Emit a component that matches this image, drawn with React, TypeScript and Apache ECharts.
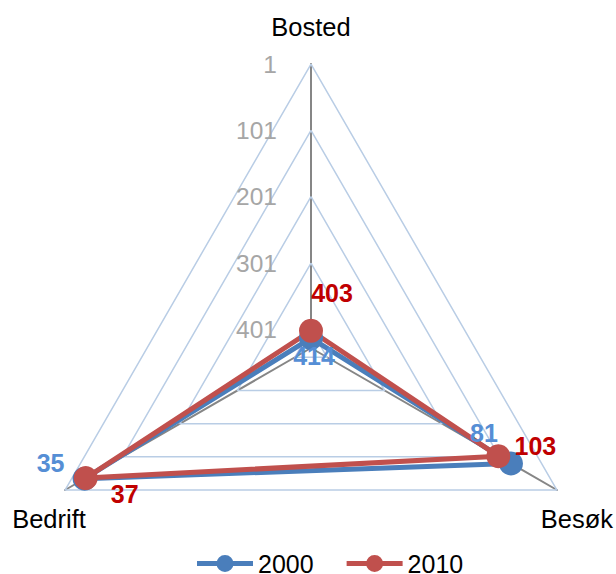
import React, { useEffect, useRef } from 'react';
import * as echarts from 'echarts';

// Indicators in ECharts' counter-clockwise order (top, bottom-left, bottom-right)
const categories = ['Bosted', 'Bedrift', 'Besøk'];
const values2000 = [414, 35, 81];
const values2010 = [403, 37, 103];
const tickLabels = [1, 101, 201, 301, 401];
const seriesNames = ['2000', '2010'];
// reversed rank axis: value at the centre / at the outer edge
const centerValue = 429;
const outerValue = 1;

const FONT = '"Liberation Sans", Arial, Helvetica, sans-serif';
const BLUE = '#4a7ebb';
const RED = '#c0504d';
const BLUE_LABEL = '#558ed5';
const RED_LABEL = '#c00000';
const GRID = '#b9cde5';
const SYM = 24;

const toRadar = (v: number) => centerValue - v;

// label centre offsets (px) from each marker, per indicator
const offsets2000: [number, number][] = [[3, 18], [-34, -16], [-27, -30]];
const offsets2010: [number, number][] = [[21, -38], [39, 16], [37, -10]];

function labelItems(values: number[], offsets: [number, number][], color: string) {
  const tv = values.map(toRadar);
  return values.map((v, i) => ({
    value: tv,
    symbolSize: SYM,
    lineStyle: { opacity: 0 },
    itemStyle: { color: 'rgba(0,0,0,0)', borderWidth: 0 },
    label: {
      show: true,
      position: [SYM / 2 + offsets[i][0], SYM / 2 + offsets[i][1]],
      align: 'center',
      verticalAlign: 'middle',
      color,
      fontSize: 25,
      fontWeight: 'bold',
      fontFamily: FONT,
      formatter: (p: any) => (p.value === toRadar(v) ? String(v) : ''),
    },
  }));
}

function dataSeries(name: string, values: number[], offsets: [number, number][], color: string, labelColor: string) {
  return {
    type: 'radar',
    name,
    silent: true,
    symbol: 'circle',
    symbolSize: SYM,
    itemStyle: { color },
    lineStyle: { color, width: 5 },
    z: 3,
    data: [
      { value: values.map(toRadar), name, label: { show: false } },
      ...labelItems(values, offsets, labelColor),
    ],
  };
}

export default function App() {
  const ref = useRef<HTMLDivElement>(null);
  useEffect(() => {
    document.body.style.margin = '0';
    if (!ref.current) return;
    const chart = echarts.init(ref.current, undefined, { renderer: 'svg' });
    const legendIcon =
      'path://M0,6.5h56v5h-56z M28,0.5a8.5,8.5 0 1,1 0,17a8.5,8.5 0 1,1 0,-17z';
    chart.setOption({
      animation: false,
      backgroundColor: '#ffffff',
      textStyle: { fontFamily: FONT },
      legend: {
        data: seriesNames,
        left: 192,
        top: 546,
        icon: legendIcon,
        itemWidth: 56,
        itemHeight: 18,
        itemGap: 33,
        textStyle: { fontSize: 25, lineHeight: 22, color: '#000', fontFamily: FONT },
        selectedMode: false,
      },
      radar: {
        center: [311, 348],
        radius: 284,
        startAngle: 90,
        shape: 'polygon',
        nameGap: 18.5,
        splitNumber: 1,
        indicator: categories.map((name) => ({ name, min: 0, max: centerValue - outerValue })),
        axisName: {
          color: '#000',
          fontSize: 25.5,
          fontFamily: FONT,
          align: 'center',
          formatter: (name: string) =>
            name === 'Bosted' ? `{top|${name}}` : name === 'Bedrift' ? `{left|${name}}` : `{right|${name}}`,
          rich: {
            top: { color: '#000', fontSize: 25.5, fontFamily: FONT, padding: [0, 0, 6, 0] },
            left: { color: '#000', fontSize: 25.5, fontFamily: FONT, padding: [39, 0, 0, 0] },
            right: { color: '#000', fontSize: 25.5, fontFamily: FONT, padding: [39, 0, 0, 8] },
          },
        },
        axisLine: { lineStyle: { color: '#868686', width: 2 } },
        axisTick: { show: false },
        axisLabel: { show: false },
        splitLine: { show: false },
        splitArea: { show: false },
      },
      series: [
        {
          type: 'radar',
          name: 'grid',
          silent: true,
          symbol: 'none',
          z: 1,
          data: tickLabels.map((v) => ({
            value: categories.map(() => toRadar(v)),
            lineStyle: { color: GRID, width: 1.5 },
          })),
        },
        {
          type: 'radar',
          name: 'ticks',
          silent: true,
          z: 1,
          data: tickLabels.map((v) => ({
            value: categories.map((_, i) => (i === 0 ? toRadar(v) : 0)),
            symbol: 'circle',
            symbolSize: 1,
            itemStyle: { color: 'rgba(0,0,0,0)' },
            lineStyle: { opacity: 0 },
            label: {
              show: true,
              position: 'left',
              distance: 33.5,
              color: '#a6a6a6',
              fontSize: 24.5,
              fontFamily: FONT,
              formatter: (p: any) => (p.value === toRadar(v) ? String(v) : ''),
            },
          })),
        },
        dataSeries(seriesNames[0], values2000, offsets2000, BLUE, BLUE_LABEL),
        dataSeries(seriesNames[1], values2010, offsets2010, RED, RED_LABEL),
      ],
    });
    return () => chart.dispose();
  }, []);
  return <div ref={ref} style={{ width: 616, height: 574 }} />;
}
